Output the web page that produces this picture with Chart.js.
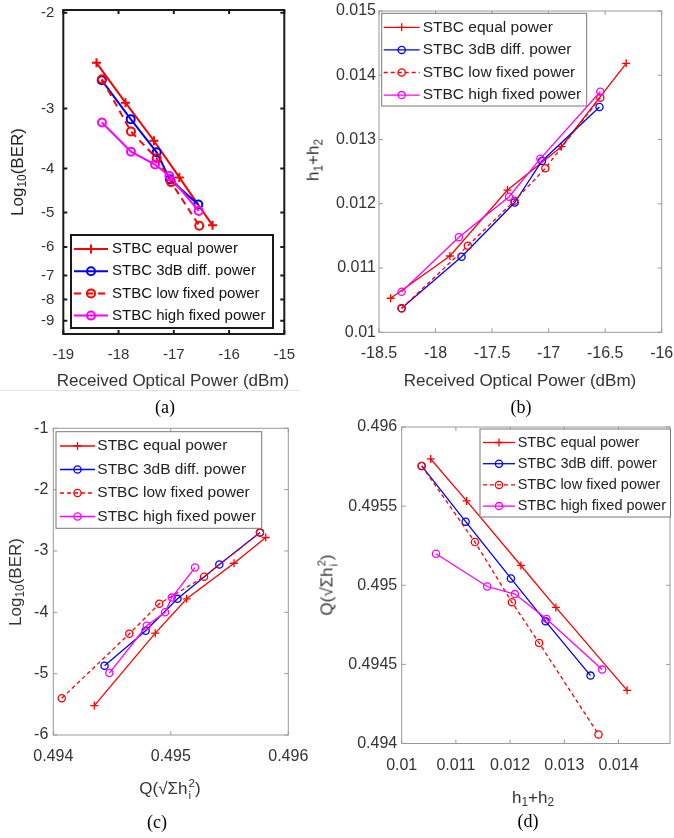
<!DOCTYPE html>
<html>
<head>
<meta charset="utf-8">
<script src="https://cdn.jsdelivr.net/npm/chart.js@4.4.0/dist/chart.umd.min.js"></script>
<style>
  html, body { margin: 0; padding: 0; background: #fff; }
  #page { position: relative; width: 674px; height: 838px; overflow: hidden;
          font-family: "Liberation Sans", Arial, sans-serif; }
  canvas { position: absolute; }
  .lbl { position: absolute; font-size: 17px; color: #333; white-space: nowrap;
         transform: translate(-50%, -50%); line-height: 1; }
  .rot { transform: translate(-50%, -50%) rotate(-90deg); }
  .cap { position: absolute; font-family: "Liberation Serif", "Times New Roman", serif;
         font-size: 18px; color: #000; transform: translate(-50%, -50%); line-height: 1; }
  .lbl sub { font-size: 70%; line-height: 0; vertical-align: -0.3em; }
  .stack { display: inline-flex; flex-direction: column; vertical-align: middle;
           font-size: 68%; line-height: 1; margin-left: 1px; }
  .rule { position: absolute; height: 1px; background: #e2e2e2; }
</style>
</head>
<body>
<div id="page">
  <canvas id="chartA" width="330" height="400" style="left:0px;top:0px"></canvas>
  <canvas id="chartB" width="344" height="400" style="left:330px;top:0px"></canvas>
  <canvas id="chartC" width="330" height="428" style="left:0px;top:410px"></canvas>
  <canvas id="chartD" width="344" height="428" style="left:330px;top:410px"></canvas>

  <div class="lbl rot" style="left:17px;top:172px;color:#222">Log<sub>10</sub>(BER)</div>
  <div class="lbl" style="left:173px;top:380px">Received Optical Power (dBm)</div>
  <div class="rule" style="left:0px;top:390px;width:300px"></div>
  <div class="cap" style="left:165px;top:407px">(a)</div>

  <div class="lbl rot" style="left:313px;top:160px">h<sub>1</sub>+h<sub>2</sub></div>
  <div class="lbl" style="left:520px;top:380px">Received Optical Power (dBm)</div>
  <div class="cap" style="left:521px;top:407px">(b)</div>

  <div class="lbl rot" style="left:15px;top:582px">Log<sub>10</sub>(BER)</div>
  <div class="lbl" style="left:170px;top:790px">Q(√Σh<span class="stack"><span>2</span><span>i</span></span>)</div>
  <div class="cap" style="left:157px;top:822px">(c)</div>

  <div class="lbl rot" style="left:328px;top:585px">Q(√Σh<span class="stack"><span>2</span><span>i</span></span>)</div>
  <div class="lbl" style="left:533px;top:797px">h<sub>1</sub>+h<sub>2</sub></div>
  <div class="cap" style="left:528px;top:821px">(d)</div>
</div>

<script>
// ---- series names -------------------------------------------------------
const seriesLabels = ['STBC equal power', 'STBC 3dB diff. power',
                      'STBC low fixed power', 'STBC high fixed power'];

// ---- (a) log10(BER) vs received optical power (dBm) ----------------------
const aPowerEqual = [-18.40, -17.875, -17.36, -16.90, -16.30];
const aBerEqual   = [-2.45, -2.92, -3.49, -4.18, -5.35];
const aPower3dB   = [-18.305, -17.78, -17.31, -17.07, -16.557];
const aBer3dB     = [-2.64, -3.15, -3.69, -4.22, -4.80];
const aPowerLow   = [-18.30, -17.775, -17.31, -17.05, -16.54];
const aBerLow     = [-2.63, -3.34, -3.80, -4.28, -5.36];
const aPowerHigh  = [-18.30, -17.775, -17.34, -17.08, -16.55];
const aBerHigh    = [-3.20, -3.68, -3.92, -4.15, -4.96];
const aXTicks = [-19, -18, -17, -16, -15];
const aYTicks = [-2, -3, -4, -5, -6, -7, -8, -9];

// ---- (b) h1+h2 vs received optical power (dBm) ---------------------------
const bPowerEqual = [-18.397, -17.873, -17.364, -16.887, -16.314];
const bSumEqual   = [0.01053, 0.011187, 0.012214, 0.012888, 0.014186];
const bPower3dB   = [-18.30, -17.77, -17.30, -17.059, -16.55];
const bSum3dB     = [0.010373, 0.011176, 0.01202, 0.012666, 0.013506];
const bPowerLow   = [-18.30, -17.714, -17.302, -17.029, -16.543];
const bSumLow     = [0.010373, 0.011348, 0.012048, 0.012552, 0.013651];
const bPowerHigh  = [-18.30, -17.794, -17.35, -17.073, -16.543];
const bSumHigh    = [0.010632, 0.011478, 0.01211, 0.012702, 0.013744];
const bXTicks = [-18.5, -18, -17.5, -17, -16.5, -16];
const bYTicks = [0.01, 0.011, 0.012, 0.013, 0.014, 0.015];

// ---- (c) log10(BER) vs Q(sqrt(sum h_i^2)) --------------------------------
const cQEqual   = [0.494349, 0.494868, 0.495135, 0.495538, 0.495808];
const cBerEqual = [-5.52, -4.34, -3.78, -3.20, -2.78];
const cQ3dB     = [0.494436, 0.494786, 0.495057, 0.495413, 0.495759];
const cBer3dB   = [-4.87, -4.30, -3.78, -3.22, -2.70];
const cQLow     = [0.494072, 0.494647, 0.494902, 0.495283, 0.495759];
const cBerLow   = [-5.40, -4.35, -3.86, -3.42, -2.70];
const cQHigh    = [0.494477, 0.494795, 0.494951, 0.495008, 0.495206];
const cBerHigh  = [-4.99, -4.22, -4.00, -3.76, -3.27];
const cXTicks = [0.494, 0.495, 0.496];
const cYTicks = [-1, -2, -3, -4, -5, -6];

// ---- (d) Q(sqrt(sum h_i^2)) vs h1+h2 --------------------------------------
const dSumEqual = [0.010535, 0.011198, 0.012199, 0.012844, 0.014159];
const dQEqual   = [0.495798, 0.495533, 0.495125, 0.49486, 0.494336];
const dSum3dB   = [0.010369, 0.01118, 0.012015, 0.012654, 0.013484];
const dQ3dB     = [0.495754, 0.495402, 0.495043, 0.494772, 0.494429];
const dSumLow   = [0.010369, 0.011351, 0.012033, 0.012535, 0.013631];
const dQLow     = [0.495754, 0.495273, 0.494893, 0.494635, 0.494057];
const dSumHigh  = [0.010632, 0.011578, 0.012088, 0.012673, 0.013698];
const dQHigh    = [0.495199, 0.494992, 0.494944, 0.494787, 0.494467];
const dXTicks = [0.01, 0.011, 0.012, 0.013, 0.014];
const dYTicks = [0.494, 0.4945, 0.495, 0.4955, 0.496];

// ---- BER axis: linear in log10(-y - shift), top = least negative -----------
class BerScale extends Chart.LinearScale {
  static id = 'berlog';
  static defaults = {};
  _tf(v) { return Math.log10(-v - this.options.shift); }
  getPixelForValue(v) {
    const a = this._tf(this.min), b = this._tf(this.max);
    return this.getPixelForDecimal((this._tf(v) - a) / (b - a));
  }
  getValueForPixel(p) {
    const a = this._tf(this.min), b = this._tf(this.max);
    return -(Math.pow(10, a + this.getDecimalForPixel(p) * (b - a)) + this.options.shift);
  }
}
Chart.register(BerScale);

Chart.defaults.font.family = '"Liberation Sans", Arial, sans-serif';

// box with inward tick marks on all four sides
const framePlugin = {
  id: 'frame',
  afterDatasetsDraw(chart, args, o) {
    const { ctx, chartArea: a } = chart;
    const sx = chart.scales.x, sy = chart.scales.y;
    ctx.save();
    ctx.strokeStyle = o.color;
    ctx.lineWidth = o.width;
    ctx.beginPath();
    sx.ticks.forEach(t => {
      const p = sx.getPixelForValue(t.value);
      ctx.moveTo(p, a.bottom); ctx.lineTo(p, a.bottom - o.len);
      ctx.moveTo(p, a.top); ctx.lineTo(p, a.top + o.len);
    });
    sy.ticks.forEach(t => {
      const p = sy.getPixelForValue(t.value);
      ctx.moveTo(a.left, p); ctx.lineTo(a.left + o.len, p);
      ctx.moveTo(a.right, p); ctx.lineTo(a.right - o.len, p);
    });
    ctx.stroke();
    ctx.strokeRect(a.left, a.top, a.right - a.left, a.bottom - a.top);
    ctx.restore();
  }
};

// boxed legend placed inside the axes
const boxLegend = {
  id: 'boxLegend',
  afterDatasetsDraw(chart, args, o) {
    const ctx = chart.ctx;
    ctx.save();
    ctx.fillStyle = '#fff';
    ctx.fillRect(o.left, o.top, o.width, o.height);
    ctx.lineWidth = o.borderWidth;
    ctx.strokeStyle = o.borderColor;
    ctx.strokeRect(o.left, o.top, o.width, o.height);
    ctx.font = o.fontSize + 'px "Liberation Sans", Arial, sans-serif';
    ctx.textBaseline = 'middle';
    ctx.textAlign = 'left';
    chart.data.datasets.forEach((ds, i) => {
      const y = o.top + o.firstRow + i * o.rowGap;
      ctx.strokeStyle = ds.borderColor;
      ctx.lineWidth = ds.borderWidth;
      ctx.setLineDash(ds.borderDash || []);
      ctx.beginPath();
      ctx.moveTo(o.left + o.lineStart, y);
      ctx.lineTo(o.left + o.lineEnd, y);
      ctx.stroke();
      ctx.setLineDash([]);
      ctx.fillStyle = 'rgba(0,0,0,0)';
      ctx.lineWidth = ds.pointBorderWidth;
      Chart.helpers.drawPoint(ctx, { pointStyle: ds.pointStyle, radius: ds.pointRadius,
        rotation: 0, borderWidth: ds.pointBorderWidth },
        o.left + (o.lineStart + o.lineEnd) / 2, y);
      ctx.fillStyle = o.textColor;
      ctx.fillText(ds.label, o.left + o.textStart, y);
    });
    ctx.restore();
  }
};

const looks = [
  { color: '#ff0000', point: 'cross' },
  { color: '#0000ff', point: 'circle' },
  { color: '#ff0000', point: 'circle' },
  { color: '#ff00ff', point: 'circle' }
];

function buildDatasets(xsList, ysList, st) {
  return xsList.map((xs, i) => ({
    label: seriesLabels[i],
    data: xs.map((x, j) => ({ x: x, y: ysList[i][j] })),
    borderColor: looks[i].color,
    backgroundColor: 'rgba(0,0,0,0)',
    borderWidth: st.lw,
    borderDash: i === 2 ? st.dash : [],
    pointStyle: looks[i].point,
    pointRadius: looks[i].point === 'cross' ? st.cross : st.circle,
    pointBorderWidth: st.lw,
    pointBorderColor: looks[i].color,
    pointBackgroundColor: 'rgba(0,0,0,0)',
    pointHoverRadius: 0,
    tension: 0,
    order: 3 - i
  }));
}

function axis(extra, ticks, fontSize, pad, fitFn) {
  return Object.assign({
    type: 'linear',
    grid: { display: false, drawTicks: false },
    border: { display: false },
    ticks: { autoSkip: false, maxRotation: 0, minRotation: 0, padding: pad,
             color: '#333', font: { size: fontSize },
             callback: v => String(v) },
    afterBuildTicks: s => { s.ticks = ticks.map(v => ({ value: v })); },
    afterFit: s => {
      fitFn(s);
      s.paddingLeft = 0; s.paddingRight = 0; s.paddingTop = 0; s.paddingBottom = 0;
    }
  }, extra);
}

// p: canvas placement and axes box in page pixels
function makePanel(id, p) {
  const xH = 35;
  const yW = p.box.l - p.canvas.l;
  new Chart(document.getElementById(id), {
    type: 'line',
    data: { datasets: buildDatasets(p.xs, p.ys, p.style) },
    plugins: [framePlugin, boxLegend],
    options: {
      responsive: false,
      animation: false,
      devicePixelRatio: 1,
      events: [],
      layout: {
        autoPadding: false,
        padding: {
          left: 0,
          top: p.box.t - p.canvas.t,
          right: p.canvas.l + p.canvas.w - p.box.r,
          bottom: p.canvas.t + p.canvas.h - p.box.b - xH
        }
      },
      scales: {
        x: axis({ min: p.xMin, max: p.xMax }, p.xTicks, p.tickFont, p.xPad,
                s => { s.height = xH; }),
        y: axis(p.yExtra, p.yTicks, p.tickFont, p.yPad, s => { s.width = yW; })
      },
      plugins: {
        legend: { display: false },
        tooltip: { enabled: false },
        frame: p.frame,
        boxLegend: p.legend
      }
    }
  });
}

makePanel('chartA', {
  canvas: { l: 0, t: 0, w: 330, h: 400 },
  box: { l: 63.3, t: 10, r: 284.3, b: 334 },
  xs: [aPowerEqual, aPower3dB, aPowerLow, aPowerHigh],
  ys: [aBerEqual, aBer3dB, aBerLow, aBerHigh],
  style: { lw: 2, dash: [7, 5], cross: 4.5, circle: 4 },
  xMin: -19, xMax: -15, xTicks: aXTicks,
  yExtra: { type: 'berlog', min: -9.7, max: -1.98, shift: 0.75 },
  yTicks: aYTicks,
  tickFont: 15, xPad: 12, yPad: 9,
  frame: { color: '#1a1a1a', width: 2, len: 4 },
  legend: { left: 71, top: 235, width: 202, height: 93, firstRow: 14, rowGap: 22.2,
            lineStart: 3, lineEnd: 37, textStart: 41, fontSize: 15,
            borderColor: '#1a1a1a', borderWidth: 2, textColor: '#111' }
});

makePanel('chartB', {
  canvas: { l: 330, t: 0, w: 344, h: 400 },
  box: { l: 379, t: 11, r: 661.7, b: 332.3 },
  xs: [bPowerEqual, bPower3dB, bPowerLow, bPowerHigh],
  ys: [bSumEqual, bSum3dB, bSumLow, bSumHigh],
  style: { lw: 1.3, dash: [4, 3], cross: 4, circle: 3.6 },
  xMin: -18.5, xMax: -16, xTicks: bXTicks,
  yExtra: { min: 0.01, max: 0.015 },
  yTicks: bYTicks,
  tickFont: 16, xPad: 12, yPad: 3,
  frame: { color: '#999', width: 1, len: 4 },
  legend: { left: 51.7, top: 13.3, width: 205, height: 92.7, firstRow: 14, rowGap: 22.6,
            lineStart: 2, lineEnd: 38, textStart: 41, fontSize: 15.5,
            borderColor: '#777', borderWidth: 1, textColor: '#222' }
});

makePanel('chartC', {
  canvas: { l: 0, t: 410, w: 330, h: 428 },
  box: { l: 53.3, t: 428.3, r: 288.3, b: 735 },
  xs: [cQEqual, cQ3dB, cQLow, cQHigh],
  ys: [cBerEqual, cBer3dB, cBerLow, cBerHigh],
  style: { lw: 1.3, dash: [4, 3], cross: 4, circle: 3.6 },
  xMin: 0.494, xMax: 0.496, xTicks: cXTicks,
  yExtra: { min: -6, max: -1 },
  yTicks: cYTicks,
  tickFont: 16, xPad: 12, yPad: 5,
  frame: { color: '#999', width: 1, len: 4 },
  legend: { left: 56, top: 21.7, width: 205.7, height: 96.6, firstRow: 14.3, rowGap: 23.5,
            lineStart: 4, lineEnd: 39, textStart: 41.3, fontSize: 15.5,
            borderColor: '#777', borderWidth: 1, textColor: '#222' }
});

makePanel('chartD', {
  canvas: { l: 330, t: 410, w: 344, h: 428 },
  box: { l: 401.7, t: 427, r: 670, b: 743.5 },
  xs: [dSumEqual, dSum3dB, dSumLow, dSumHigh],
  ys: [dQEqual, dQ3dB, dQLow, dQHigh],
  style: { lw: 1.3, dash: [4, 3], cross: 4, circle: 3.6 },
  xMin: 0.01, xMax: 0.01495, xTicks: dXTicks,
  yExtra: { min: 0.494, max: 0.496 },
  yTicks: dYTicks,
  tickFont: 16, xPad: 12, yPad: 4.5,
  frame: { color: '#999', width: 1, len: 4 },
  legend: { left: 150, top: 19, width: 190.5, height: 88, firstRow: 13.5, rowGap: 21.2,
            lineStart: 3, lineEnd: 35, textStart: 37.7, fontSize: 14.5,
            borderColor: '#777', borderWidth: 1, textColor: '#222' }
});
</script>
</body>
</html>
